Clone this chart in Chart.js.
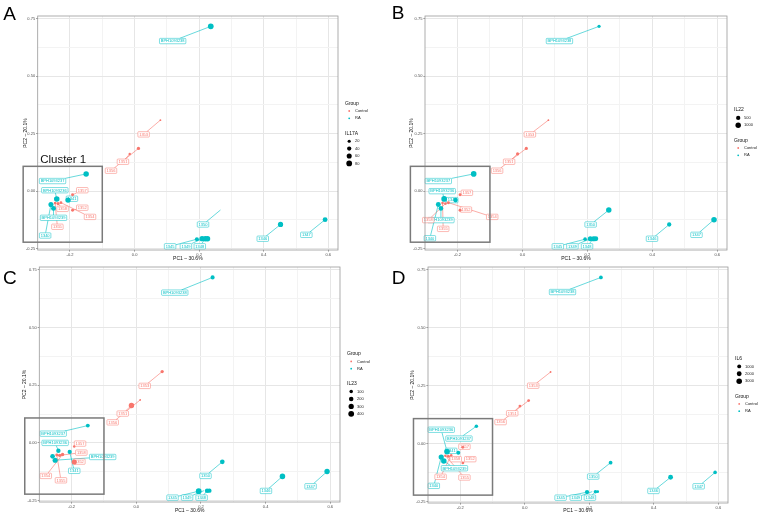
<!DOCTYPE html>
<html><head><meta charset="utf-8">
<script src="https://cdn.jsdelivr.net/npm/chart.js@4.4.0/dist/chart.umd.min.js"></script>
<style>
html,body{margin:0;padding:0;background:#fff;}
body{width:760px;height:515px;position:relative;overflow:hidden;}
canvas{position:absolute;}
</style></head><body>
<canvas id="cA" width="380" height="262" style="left:0px;top:0px"></canvas>
<canvas id="cB" width="380" height="262" style="left:380px;top:0px"></canvas>
<canvas id="cC" width="380" height="258" style="left:0px;top:257px"></canvas>
<canvas id="cD" width="380" height="258" style="left:380px;top:257px"></canvas>
<script>
// ---------- data ----------
const samples = ['BPH1093238','BPH1093237','BPH1093236','1341','1340','BPH1093239','1350','1345','1349','1348','1343','1346','1347',
                 '1353','1356','1351','1357','1358','1352','1354','1355'];
const groups  = ['RA','RA','RA','RA','RA','RA','RA','RA','RA','RA','RA','RA','RA',
                 'Control','Control','Control','Control','Control','Control','Control','Control'];
const pc1 = [0.236,-0.150,-0.241,-0.206,-0.259,-0.251,0.266,0.193,0.209,0.219,0.226,0.452,0.590,
             0.080,0.012,-0.015,-0.192,-0.237,-0.192,-0.228,-0.246];
const pc2 = [0.717,0.075,-0.034,-0.039,-0.058,-0.075,-0.082,-0.209,-0.207,-0.207,-0.207,-0.145,-0.124,
             0.309,0.186,0.162,-0.016,-0.054,-0.083,-0.050,-0.052];
const il17a = [80,72,75,70,60,55,null,35,65,75,70,65,55, 12,22,14,18,20,18,16,15];
const il22  = [200,1100,1150,600,750,650,1000,300,800,850,750,500,1050, 50,200,180,150,120,150,150,100];
const il23  = [150,130,180,170,220,280,220,380,null,200,180,350,320, 80,30,330,40,90,280,90,60];
const il6   = [900,700,3200,1000,2500,2900,900,1300,null,700,300,2000,800, 100,300,300,300,400,300,200,200];
const groupNames = ['Control','RA'];
const breaksIL17A = [20,40,60,80];
const breaksIL22 = [500,1000];
const breaksIL23 = [100,200,300,400];
const breaksIL6 = [1000,2000,3000];
const xMajor = [-0.2,0.0,0.2,0.4,0.6];
const xMajorLabels = ['-0.2','0.0','0.2','0.4','0.6'];
const xMinor = [-0.1,0.1,0.3,0.5];
const yMajor = [-0.25,0.0,0.25,0.5,0.75];
const yMajorLabels = ['-0.25','0.00','0.25','0.50','0.75'];
const yMinor = [-0.125,0.125,0.375,0.625];
const xTitle = 'PC1 – 30.6%';
const yTitle = 'PC2 – 20.1%';

// label (ggrepel) layout per panel, data coords
const labA = [[0.118,0.653],[-0.254,0.044],[-0.247,0.004],[-0.194,-0.033],[-0.277,-0.193],[-0.251,-0.116],[0.212,-0.145],[0.110,-0.240],[0.159,-0.240],[0.202,-0.240],null,[0.397,-0.207],[0.532,-0.190],
              [0.028,0.247],[-0.073,0.089],[-0.036,0.128],[-0.162,0.004],[-0.223,-0.077],[-0.162,-0.072],[-0.138,-0.112],[-0.239,-0.155]];
const labB = [[0.114,0.653],[-0.259,0.044],[-0.247,0.0],[-0.216,-0.039],[-0.285,-0.205],[-0.251,-0.126],[0.210,-0.145],[0.109,-0.240],[0.154,-0.240],[0.199,-0.240],null,[0.399,-0.207],[0.536,-0.190],
              [0.023,0.247],[-0.078,0.089],[-0.041,0.128],[-0.171,-0.007],[-0.290,-0.126],[-0.174,-0.080],[-0.093,-0.112],[-0.244,-0.164]];
const labC = [[0.119,0.651],[-0.257,0.040],[-0.251,0.0],[-0.192,-0.121],null,[-0.104,-0.061],[0.214,-0.143],[0.112,-0.237],[0.157,-0.237],[0.202,-0.237],null,[0.401,-0.208],[0.539,-0.188],
              [0.026,0.247],[-0.073,0.089],[-0.042,0.127],[-0.174,-0.003],[-0.170,-0.042],[-0.176,-0.081],[-0.280,-0.143],[-0.233,-0.162]];
const labD = [[0.117,0.654],[-0.204,0.022],[-0.259,0.060],[-0.228,-0.031],[-0.282,-0.182],[-0.218,-0.106],[0.212,-0.142],[0.111,-0.233],[0.158,-0.233],[0.202,-0.233],null,[0.399,-0.204],[0.539,-0.184],
              [0.026,0.250],[-0.075,0.093],[-0.039,0.131],[-0.187,-0.013],[-0.214,-0.067],[-0.169,-0.067],[-0.261,-0.143],[-0.187,-0.146]];

// ---------- style ----------
const COLORS = {Control:'#F8766D', RA:'#00BFC4'};
const FAMILY = '"Liberation Sans", Arial, sans-serif';
const X_MIN=-0.300, X_MAX=0.630, Y_MIN=-0.256, Y_MAX=0.762;
const R_MIN=0.9, R_MAX=2.85;

function isIn(v, arr){ return arr.some(a=>Math.abs(a-v)<1e-6); }
function idxIn(v, arr){ return arr.findIndex(a=>Math.abs(a-v)<1e-6); }

function makePanel(cfg){
  const canvas = document.getElementById(cfg.id);
  const W = canvas.width, H = canvas.height, A = cfg.area;
  const vals = cfg.values.filter(v=>v!==null);
  const vmin = Math.min(...vals), vmax = Math.max(...vals);
  const rad = v => R_MIN + (R_MAX-R_MIN)*Math.sqrt(Math.max(0,(v-vmin)/(vmax-vmin)));
  const pts = {Control:[], RA:[]};
  samples.forEach((s,i)=>{
    if(cfg.values[i]===null) return;
    pts[groups[i]].push({x:pc1[i], y:pc2[i], r:rad(cfg.values[i]), i:i});
  });

  const overlay = {
    id:'overlay'+cfg.id,
    beforeDatasetsDraw(chart){
      const ctx = chart.ctx, xs = chart.scales.x, ys = chart.scales.y;
      ctx.save();
      ctx.font = '4px '+FAMILY;
      samples.forEach((s,i)=>{
        const L = cfg.labels[i]; if(!L) return;
        const col = COLORS[groups[i]];
        const px = xs.getPixelForValue(pc1[i]), py = ys.getPixelForValue(pc2[i]);
        const lx = xs.getPixelForValue(L[0]), ly = ys.getPixelForValue(L[1]);
        const w = ctx.measureText(s).width + 2.6, h = 5.4;
        const dx = px-lx, dy = py-ly;
        const tx = dx!==0 ? (w/2)/Math.abs(dx) : Infinity;
        const ty = dy!==0 ? (h/2)/Math.abs(dy) : Infinity;
        const t = Math.min(tx,ty);
        if(t<1){
          ctx.strokeStyle = col; ctx.lineWidth = 0.6;
          ctx.beginPath(); ctx.moveTo(lx+dx*t, ly+dy*t); ctx.lineTo(px,py); ctx.stroke();
        }
      });
      samples.forEach((s,i)=>{
        const L = cfg.labels[i]; if(!L) return;
        const col = COLORS[groups[i]];
        const lx = xs.getPixelForValue(L[0]), ly = ys.getPixelForValue(L[1]);
        const w = ctx.measureText(s).width + 2.6, h = 5.4;
        ctx.fillStyle = '#ffffff'; ctx.strokeStyle = col; ctx.lineWidth = 0.5;
        ctx.beginPath();
        if(ctx.roundRect) ctx.roundRect(lx-w/2, ly-h/2, w, h, 0.8); else ctx.rect(lx-w/2, ly-h/2, w, h);
        ctx.fill(); ctx.stroke();
        ctx.fillStyle = col; ctx.textAlign='center'; ctx.textBaseline='middle';
        ctx.fillText(s, lx, ly+0.2);
      });
      ctx.restore();
    },
    afterDraw(chart){
      const ctx = chart.ctx, ca = chart.chartArea, xs = chart.scales.x, ys = chart.scales.y;
      ctx.save();
      ctx.strokeStyle = '#9a9a9a'; ctx.lineWidth = 0.8;
      ctx.strokeRect(ca.left, ca.top, ca.right-ca.left, ca.bottom-ca.top);
      ctx.fillStyle = '#111'; ctx.font = '5px '+FAMILY;
      ctx.textAlign='center'; ctx.textBaseline='middle';
      ctx.fillText(xTitle, (ca.left+ca.right)/2, cfg.xTitleY);
      ctx.save(); ctx.translate(cfg.yTitleX, (ca.top+ca.bottom)/2); ctx.rotate(-Math.PI/2);
      ctx.fillText(yTitle, 0, 0); ctx.restore();
      const bx0 = xs.getPixelForValue(-0.345), bx1 = xs.getPixelForValue(-0.100);
      const by0 = ys.getPixelForValue(0.108), by1 = ys.getPixelForValue(-0.222);
      ctx.strokeStyle = '#7a7a7a'; ctx.lineWidth = 1.5;
      ctx.strokeRect(bx0, by0, bx1-bx0, by1-by0);
      if(cfg.cluster){
        ctx.fillStyle='#111'; ctx.font = '11.5px '+FAMILY; ctx.textAlign='left'; ctx.textBaseline='alphabetic';
        ctx.fillText('Cluster 1', bx0+17, by0-3.5);
      }
      ctx.fillStyle='#000'; ctx.font = '19px '+FAMILY; ctx.textAlign='left'; ctx.textBaseline='alphabetic';
      ctx.fillText(cfg.letter, cfg.letterXY[0], cfg.letterXY[1]);
      const lg = cfg.legend;
      let y = lg.y;
      const drawGroup = ()=>{
        ctx.fillStyle='#111'; ctx.font='5px '+FAMILY; ctx.textAlign='left'; ctx.textBaseline='middle';
        ctx.fillText('Group', lg.x, y); y += 7.7;
        groupNames.forEach(g=>{
          ctx.fillStyle = COLORS[g]; ctx.beginPath(); ctx.arc(lg.x+4.2, y, 0.9, 0, Math.PI*2); ctx.fill();
          ctx.fillStyle='#222'; ctx.font='4px '+FAMILY; ctx.fillText(g, lg.x+10, y);
          y += 7.3;
        });
        y += 7.7;
      };
      const drawSize = ()=>{
        ctx.fillStyle='#111'; ctx.font='5px '+FAMILY; ctx.textAlign='left'; ctx.textBaseline='middle';
        ctx.fillText(cfg.sizeTitle, lg.x, y); y += 7.9;
        cfg.breaks.forEach(b=>{
          ctx.fillStyle = '#000'; ctx.beginPath(); ctx.arc(lg.x+4.2, y, rad(b), 0, Math.PI*2); ctx.fill();
          ctx.fillStyle='#222'; ctx.font='4px '+FAMILY; ctx.fillText(String(b), lg.x+10, y);
          y += 7.4;
        });
        y += 7.6;
      };
      if(cfg.order==='group'){ drawGroup(); drawSize(); } else { drawSize(); drawGroup(); }
      ctx.restore();
    }
  };

  const gridColor = (maj) => c => (c.tick && isIn(c.tick.value, maj)) ? '#e6e6e6' : '#f3f3f3';
  const tickCol = (maj) => c => (c.tick && isIn(c.tick.value, maj)) ? '#555' : 'rgba(0,0,0,0)';

  return new Chart(canvas, {
    type:'scatter',
    data:{datasets: groupNames.map(g=>({
      label:g, data:pts[g], backgroundColor:COLORS[g], borderWidth:0,
      pointRadius: c => c.raw ? c.raw.r : 0, pointHoverRadius: c => c.raw ? c.raw.r : 0
    }))},
    options:{
      responsive:false, animation:false, devicePixelRatio:1, events:[],
      layout:{padding:{left:0, top:A.t, right:W-A.r, bottom:0}},
      plugins:{legend:{display:false}, tooltip:{enabled:false}},
      scales:{
        x:{type:'linear', min:X_MIN, max:X_MAX,
           afterBuildTicks(s){ s.ticks = xMinor.concat(xMajor).sort((a,b)=>a-b).map(v=>({value:v})); },
           afterFit(s){ s.height = H - A.b; },
           ticks:{autoSkip:false, maxRotation:0, minRotation:0, padding:0.5, color:'#4d4d4d',
                  font:{size:4, family:FAMILY},
                  callback:v=>{ const k=idxIn(v,xMajor); return k>=0 ? xMajorLabels[k] : ''; }},
           grid:{color:gridColor(xMajor), lineWidth:1, tickLength:1.6, tickColor:tickCol(xMajor), tickWidth:0.6},
           border:{display:false}},
        y:{type:'linear', min:Y_MIN, max:Y_MAX,
           afterBuildTicks(s){ s.ticks = yMinor.concat(yMajor).sort((a,b)=>a-b).map(v=>({value:v})); },
           afterFit(s){ s.width = A.l; },
           ticks:{autoSkip:false, padding:1, color:'#4d4d4d', font:{size:4, family:FAMILY},
                  callback:v=>{ const k=idxIn(v,yMajor); return k>=0 ? yMajorLabels[k] : ''; }},
           grid:{color:gridColor(yMajor), lineWidth:1, tickLength:1.6, tickColor:tickCol(yMajor), tickWidth:0.6},
           border:{display:false}}
      }
    },
    plugins:[overlay]
  });
}

makePanel({id:'cA', area:{l:37.7,t:16,r:338,b:250}, values:il17a, sizeTitle:'IL17A', breaks:breaksIL17A,
  order:'group', legend:{x:345,y:103.3}, labels:labA, letter:'A', letterXY:[3.3,20], cluster:true, yTitleX:26, xTitleY:259});
makePanel({id:'cB', area:{l:45,t:16,r:347,b:250}, values:il22, sizeTitle:'IL22', breaks:breaksIL22,
  order:'size', legend:{x:354,y:110}, labels:labB, letter:'B', letterXY:[11.7,18.5], cluster:false, yTitleX:31.7, xTitleY:259});
makePanel({id:'cC', area:{l:39.3,t:10,r:340,b:245}, values:il23, sizeTitle:'IL23', breaks:breaksIL23,
  order:'group', legend:{x:347,y:96.7}, labels:labC, letter:'C', letterXY:[3,27], cluster:false, yTitleX:25, xTitleY:254});
makePanel({id:'cD', area:{l:48,t:10,r:348,b:246}, values:il6, sizeTitle:'IL6', breaks:breaksIL6,
  order:'size', legend:{x:355,y:101.5}, labels:labD, letter:'D', letterXY:[11.7,27], cluster:false, yTitleX:32.3, xTitleY:254});
</script>
</body></html>
